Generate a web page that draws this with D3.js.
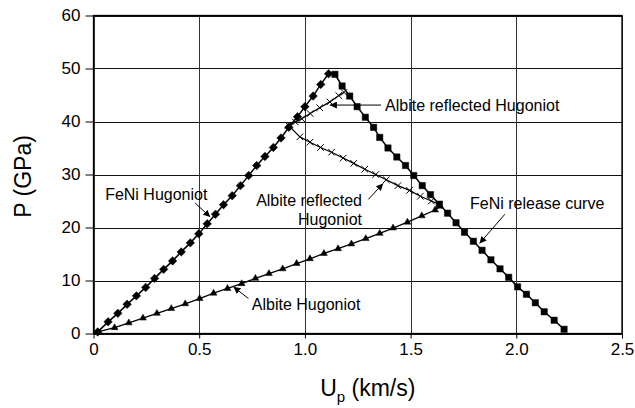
<!DOCTYPE html>
<html>
<head>
<meta charset="utf-8">
<script src="https://cdn.jsdelivr.net/npm/d3@7"></script>
<style>
  body { margin: 0; background: #fff; }
  text { font-family: "Liberation Sans", Arial, sans-serif; fill: #000; }
</style>
</head>
<body>
<script>
// Up (km/s) and P (GPa)
var feniHugUp = [0.020, 0.069, 0.115, 0.159, 0.203, 0.247, 0.289, 0.332, 0.374, 0.415, 0.458, 0.498, 0.538, 0.577, 0.615, 0.656, 0.695, 0.734, 0.772, 0.811, 0.851, 0.887, 0.924, 0.965, 1.000, 1.039, 1.075, 1.112];
var feniHugP = [0.3, 2.2, 3.8, 5.5, 7.1, 8.7, 10.4, 12.1, 13.7, 15.4, 17.1, 18.8, 20.7, 22.5, 24.3, 26.0, 27.9, 29.8, 31.7, 33.4, 35.1, 36.9, 38.9, 40.9, 42.8, 44.8, 47.0, 49.0];

var releaseUp = [1.142, 1.176, 1.212, 1.247, 1.286, 1.325, 1.354, 1.393, 1.435, 1.476, 1.515, 1.555, 1.594, 1.636, 1.675, 1.715, 1.755, 1.797, 1.838, 1.880, 1.923, 1.964, 2.006, 2.048, 2.090, 2.132, 2.179, 2.226];
var releaseP = [48.9, 46.7, 44.8, 42.8, 40.8, 38.9, 37.0, 35.0, 33.3, 31.7, 29.8, 27.9, 26.2, 24.4, 22.7, 20.9, 19.1, 17.4, 15.7, 13.9, 12.2, 10.6, 8.8, 7.4, 5.8, 4.1, 2.5, 0.8];

var albHugUp = [0.020, 0.100, 0.167, 0.234, 0.300, 0.368, 0.434, 0.502, 0.568, 0.634, 0.701, 0.766, 0.830, 0.895, 0.961, 1.024, 1.090, 1.157, 1.220, 1.288, 1.354, 1.417, 1.485, 1.553, 1.616, 1.640];
var albHugP = [0.3, 1.1, 2.0, 2.9, 3.8, 4.7, 5.6, 6.6, 7.6, 8.5, 9.4, 10.4, 11.3, 12.2, 13.2, 14.1, 15.1, 16.0, 16.9, 17.9, 18.9, 19.9, 21.0, 22.2, 23.3, 24.0];

var reflLowUp = [0.922, 0.976, 1.024, 1.074, 1.126, 1.181, 1.231, 1.283, 1.335, 1.385, 1.440, 1.495, 1.546, 1.598, 1.636];
var reflLowP = [39.3, 37.1, 36.1, 35.1, 34.2, 33.1, 32.1, 31.0, 30.0, 29.0, 27.9, 27.0, 25.9, 25.0, 24.4];

var reflUpUp = [0.922, 0.955, 0.985, 1.025, 1.070, 1.118, 1.160, 1.185];
var reflUpP = [39.3, 39.9, 40.5, 41.5, 42.6, 43.7, 44.9, 45.5];

var xTicks = [0, 0.5, 1.0, 1.5, 2.0, 2.5];
var xTickLabels = ["0", "0.5", "1.0", "1.5", "2.0", "2.5"];
var yTicks = [0, 10, 20, 30, 40, 50, 60];

// labels: text lines, text anchor point, arrow tail and tip (data units)
var labelText = [["Albite reflected Hugoniot"], ["Albite reflected", "Hugoniot"], ["FeNi release curve"], ["FeNi Hugoniot"], ["Albite Hugoniot"]];
var labelAt = [[1.379, 42.0], [1.270, 24.0], [1.781, 23.5], [0.055, 25.1], [0.749, 4.5]];
var arrowFrom = [[1.360, 43.1], [1.300, 25.3], [1.946, 22.5], [0.481, 24.6], [0.733, 6.6]];
var arrowTo = [[1.118, 43.1], [1.370, 28.3], [1.826, 17.0], [0.552, 22.0], [0.662, 8.8]];

var w = 635, h = 408;
var pLeft = 93.5, pRight = 622, pTop = 15.5, pBottom = 333.5;

var x = d3.scaleLinear().domain([0, 2.5]).range([pLeft, pRight]);
var y = d3.scaleLinear().domain([0, 60]).range([pBottom, pTop]);

var svg = d3.select("body").append("svg")
  .attr("width", w)
  .attr("height", h);

svg.append("defs").append("marker")
  .attr("id", "arr")
  .attr("viewBox", "0 0 10 10")
  .attr("refX", 10).attr("refY", 5)
  .attr("markerWidth", 7).attr("markerHeight", 7)
  .attr("markerUnits", "userSpaceOnUse")
  .attr("orient", "auto")
  .append("path").attr("d", "M0,0L10,5L0,10z").attr("fill", "#000");

// grid
svg.append("g").selectAll("line").data(yTicks).enter().append("line")
  .attr("x1", pLeft).attr("x2", pRight)
  .attr("y1", function(d) { return Math.round(y(d)) + 0.5; })
  .attr("y2", function(d) { return Math.round(y(d)) + 0.5; })
  .attr("stroke", "#111").attr("stroke-width", 1);
svg.append("g").selectAll("line").data(xTicks).enter().append("line")
  .attr("x1", function(d) { return Math.round(x(d)) + 0.5; })
  .attr("x2", function(d) { return Math.round(x(d)) + 0.5; })
  .attr("y1", pTop).attr("y2", pBottom)
  .attr("stroke", "#333").attr("stroke-width", 1);

svg.append("rect")
  .attr("x", pLeft).attr("y", pTop)
  .attr("width", pRight - pLeft).attr("height", pBottom - pTop)
  .attr("fill", "none").attr("stroke", "#000").attr("stroke-width", 1.3);

// axes
var yAxis = d3.axisLeft(y).tickValues(yTicks).tickSize(8).tickPadding(5);
var gy = svg.append("g").attr("transform", "translate(" + pLeft + ",0)").call(yAxis);
gy.select(".domain").remove();
gy.selectAll("text").style("font-size", "17px").style("font-family", "Liberation Sans, Arial, sans-serif");

var xAxis = d3.axisBottom(x).tickValues(xTicks).tickSize(5).tickPadding(4)
  .tickFormat(function(d, i) { return xTickLabels[i]; });
var gx = svg.append("g").attr("transform", "translate(0," + pBottom + ")").call(xAxis);
gx.select(".domain").remove();
gx.selectAll("text").style("font-size", "17px").style("font-family", "Liberation Sans, Arial, sans-serif");

// titles
svg.append("text")
  .attr("transform", "translate(31," + ((pTop + pBottom) / 2 + 2) + ") rotate(-90)")
  .attr("text-anchor", "middle")
  .style("font-size", "23px")
  .text("P (GPa)");

var xt = svg.append("text")
  .attr("x", (pLeft + pRight) / 2 + 10).attr("y", 396)
  .attr("text-anchor", "middle")
  .style("font-size", "23px");
xt.append("tspan").text("U");
xt.append("tspan").attr("dy", 6).style("font-size", "15px").text("p");
xt.append("tspan").attr("dy", -6).text(" (km/s)");

function zip(a, b) {
  return a.map(function(v, i) { return [v, b[i]]; });
}

var line = d3.line()
  .x(function(d) { return x(d[0]); })
  .y(function(d) { return y(d[1]); });

var feniHug = zip(feniHugUp, feniHugP);
var release = zip(releaseUp, releaseP);
var albHug = zip(albHugUp, albHugP);
var reflLow = zip(reflLowUp, reflLowP);
var reflUp = zip(reflUpUp, reflUpP);

var series = [
  {pts: albHug, path: albHug, sym: d3.symbolTriangle, size: 20, rot: 0, fill: true, sw: 1.3},
  {pts: reflLow, path: reflLow, sym: d3.symbolTimes, size: 30, rot: 0, fill: false, sw: 1.2},
  {pts: reflUp, path: reflUp, sym: d3.symbolTimes, size: 30, rot: 0, fill: false, sw: 1.2},
  {pts: feniHug, path: feniHug, sym: d3.symbolSquare, size: 36, rot: 45, fill: true, sw: 1.5},
  {pts: release, path: [feniHug[feniHug.length - 1]].concat(release), sym: d3.symbolSquare, size: 40, rot: 0, fill: true, sw: 1.5}
];

series.forEach(function(s) {
  svg.append("path")
    .attr("d", line(s.path))
    .attr("fill", "none")
    .attr("stroke", "#000")
    .attr("stroke-width", s.sw);
  svg.append("g").selectAll("path").data(s.pts).enter().append("path")
    .attr("transform", function(d) {
      return "translate(" + x(d[0]) + "," + y(d[1]) + ") rotate(" + s.rot + ")";
    })
    .attr("d", d3.symbol().type(s.sym).size(s.size))
    .attr("fill", s.fill ? "#000" : "none")
    .attr("stroke", "#000")
    .attr("stroke-width", s.fill ? 0.5 : 1);
});

// labels and leader arrows
labelText.forEach(function(lines, i) {
  var t = svg.append("text")
    .attr("x", x(labelAt[i][0])).attr("y", y(labelAt[i][1]))
    .attr("text-anchor", i == 1 ? "end" : "start")
    .style("font-size", "16px");
  lines.forEach(function(s, j) {
    t.append("tspan")
      .attr("x", x(labelAt[i][0]))
      .attr("dy", j == 0 ? 0 : 18.5)
      .text(s);
  });
  svg.append("line")
    .attr("x1", x(arrowFrom[i][0])).attr("y1", y(arrowFrom[i][1]))
    .attr("x2", x(arrowTo[i][0])).attr("y2", y(arrowTo[i][1]))
    .attr("stroke", "#000").attr("stroke-width", 1)
    .attr("marker-end", "url(#arr)");
});
</script>
</body>
</html>
